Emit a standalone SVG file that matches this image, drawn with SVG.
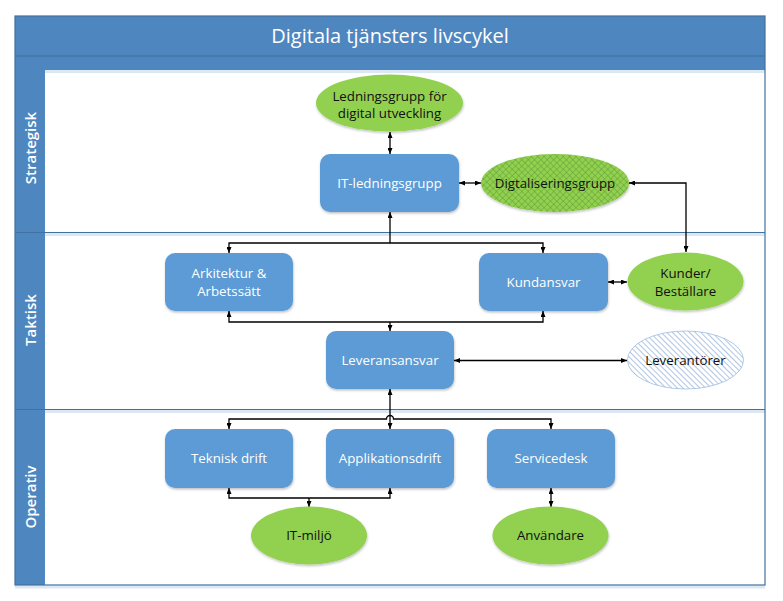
<svg xmlns="http://www.w3.org/2000/svg" width="783" height="601" viewBox="0 0 783 601">
<defs>
<style>
.hdr{fill:#4E86BF}
.edge{stroke:#41719C;stroke-width:1.2;fill:none}
.shade{fill:#DCE7F4}
.box{fill:#5B9BD5;filter:url(#sh)}
.ell{fill:#92D050;filter:url(#sh)}
.bt{font-family:"Open Sans","Noto Sans",sans-serif;font-size:13.3px;fill:#fff;text-anchor:middle}
.et{font-family:"Open Sans","Noto Sans",sans-serif;font-size:13.3px;fill:#111;text-anchor:middle}
.lt{font-family:"Open Sans","Noto Sans",sans-serif;font-size:15px;font-weight:600;fill:#fff;text-anchor:middle}
.title{font-family:"Open Sans","Noto Sans",sans-serif;font-size:20px;fill:#fff;text-anchor:middle}
.c{stroke:#000;stroke-width:1.3;fill:none;marker-end:url(#ah)}
.cb{stroke:#000;stroke-width:1.3;fill:none;marker-start:url(#ah);marker-end:url(#ah)}
</style>
<marker id="ah" viewBox="0 0 6 5" refX="6" refY="2.5" markerWidth="6" markerHeight="5" markerUnits="userSpaceOnUse" orient="auto-start-reverse">
<path d="M0,0 L6,2.5 L0,5 z" fill="#000"/>
</marker>
<pattern id="cross" width="4.5" height="4.5" patternUnits="userSpaceOnUse" patternTransform="rotate(45)">
<rect width="4.5" height="4.5" fill="#92D050"/>
<path d="M0,0 H4.5 M0,0 V4.5" stroke="#4F8A2A" stroke-width="0.7"/>
</pattern>
<pattern id="diag" width="4" height="4" patternUnits="userSpaceOnUse" patternTransform="rotate(-45)">
<rect width="4" height="4" fill="#fff"/>
<path d="M0,0 V4" stroke="#4F7FBF" stroke-width="0.9"/>
</pattern>
<filter id="sh" x="-10%" y="-10%" width="125%" height="130%">
<feDropShadow dx="0.5" dy="1.5" stdDeviation="1" flood-color="#000" flood-opacity="0.25"/>
</filter>
</defs>
<rect width="783" height="601" fill="#fff"/>
<g id="frame">
<rect x="15" y="16" width="750" height="54" class="hdr"/>
<line x1="15" y1="56" x2="765" y2="56" stroke="#41719C" stroke-width="1.2"/>
<text x="390" y="43" class="title">Digitala tjänsters livscykel</text>
<rect x="15" y="70" width="30" height="515" class="hdr"/>
<rect x="45" y="70" width="720" height="3" class="shade"/>
<rect x="45" y="233" width="720" height="3" class="shade"/>
<rect x="45" y="410" width="720" height="3" class="shade"/>
<rect x="15" y="585.5" width="750" height="3" class="shade"/>
<line x1="15" y1="232.5" x2="765" y2="232.5" class="edge"/>
<line x1="15" y1="409.5" x2="765" y2="409.5" class="edge"/>
<rect x="15" y="16" width="750" height="569" class="edge"/>
<text class="lt" transform="translate(35.5,148) rotate(-90)">Strategisk</text>
<text class="lt" transform="translate(35.5,320) rotate(-90)">Taktisk</text>
<text class="lt" transform="translate(35.5,497) rotate(-90)">Operativ</text>
</g>
<g id="connectors">
<line x1="390" y1="132" x2="390" y2="154" class="cb"/>
<line x1="459" y1="183" x2="481" y2="183" class="cb"/>
<path d="M629,183 H686 V252" class="cb"/>
<path d="M390,243 V212" class="c"/>
<path d="M229,253 V243 H543 V253" class="cb"/>
<path d="M229,311 V322 H543 V311" class="cb"/>
<path d="M390,322 V331" class="c"/>
<line x1="608" y1="282" x2="627" y2="282" class="cb"/>
<line x1="454" y1="360.5" x2="627" y2="360.5" class="cb"/>
<line x1="390" y1="389" x2="390" y2="429" class="cb"/>
<path d="M229,429 V419 H386.5 A3.5,3.5 0 0 1 393.5,419 H551 V429" class="cb"/>
<path d="M229,488 V498 H390 V488" class="cb"/>
<path d="M309,498 V507" class="c"/>
<line x1="551" y1="488" x2="551" y2="507" class="cb"/>
</g>
<g id="ledningsgrupp">
<ellipse cx="389.5" cy="103" rx="73.5" ry="28.5" class="ell"/>
<text x="389.5" y="101" class="et">Ledningsgrupp för</text>
<text x="389.5" y="118" class="et">digital utveckling</text>
</g>
<g id="it-ledningsgrupp">
<rect x="320" y="154" width="139" height="58" rx="10" class="box"/>
<text x="389.5" y="187.5" class="bt">IT-ledningsgrupp</text>
</g>
<g id="digitaliseringsgrupp">
<ellipse cx="555" cy="183" rx="74" ry="29" fill="url(#cross)" filter="url(#sh)"/>
<text x="555" y="187.5" class="et">Digtaliseringsgrupp</text>
</g>
<g id="arkitektur">
<rect x="165" y="253" width="128" height="58" rx="10" class="box"/>
<text x="229" y="277.5" class="bt">Arkitektur &amp;</text>
<text x="229" y="296" class="bt">Arbetssätt</text>
</g>
<g id="kundansvar">
<rect x="479" y="253" width="129" height="58" rx="10" class="box"/>
<text x="543.5" y="286.5" class="bt">Kundansvar</text>
</g>
<g id="kunder">
<ellipse cx="685.5" cy="281.5" rx="58" ry="29" class="ell"/>
<text x="685.5" y="277.5" class="et">Kunder/</text>
<text x="685.5" y="295.5" class="et">Beställare</text>
</g>
<g id="leveransansvar">
<rect x="326" y="331" width="128" height="58" rx="10" class="box"/>
<text x="390" y="364.5" class="bt">Leveransansvar</text>
</g>
<g id="leverantorer">
<ellipse cx="685.5" cy="360" rx="58" ry="29" fill="url(#diag)" stroke="#9DBBE0" stroke-width="0.8"/>
<text x="685.5" y="364.5" class="et">Leverantörer</text>
</g>
<g id="teknisk-drift">
<rect x="165" y="429" width="128" height="59" rx="10" class="box"/>
<text x="229" y="462.5" class="bt">Teknisk drift</text>
</g>
<g id="applikationsdrift">
<rect x="326" y="429" width="128" height="59" rx="10" class="box"/>
<text x="390" y="462.5" class="bt">Applikationsdrift</text>
</g>
<g id="servicedesk">
<rect x="487" y="429" width="128" height="59" rx="10" class="box"/>
<text x="551" y="462.5" class="bt">Servicedesk</text>
</g>
<g id="it-miljo">
<ellipse cx="309" cy="535.5" rx="58" ry="29" class="ell"/>
<text x="309" y="540" class="et">IT-miljö</text>
</g>
<g id="anvandare">
<ellipse cx="550.5" cy="535.5" rx="58" ry="29" class="ell"/>
<text x="550.5" y="540" class="et">Användare</text>
</g>
</svg>
